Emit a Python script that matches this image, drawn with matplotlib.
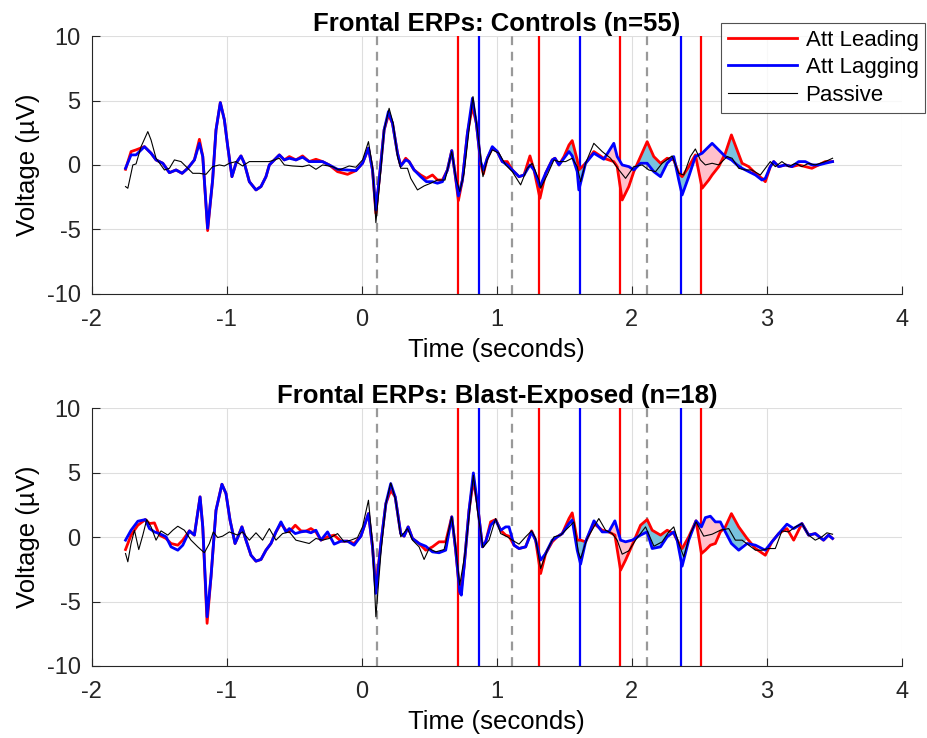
import matplotlib
matplotlib.use('Agg')
import matplotlib.pyplot as plt
import numpy as np

# ---- event markers (seconds) ----
lead_onsets = [0.714, 1.314, 1.914, 2.514]
lag_onsets = [0.864, 1.614, 2.364]
cue_times = [0.114, 1.114, 2.114]
fill_window = (1.45, 2.85)

# ---- Controls (n=55): Att Leading / Att Lagging on a shared time base ----
top_t = [-1.750, -1.709, -1.672, -1.610, -1.561, -1.524, -1.474, -1.425, -1.376, -1.331,
         -1.289, -1.240, -1.203, -1.178, -1.142, -1.105, -1.080, -1.048, -1.018, -0.993,
         -0.962, -0.932, -0.895, -0.870, -0.833, -0.784, -0.747, -0.710, -0.685, -0.648,
         -0.611, -0.574, -0.537, -0.488, -0.439, -0.390, -0.340, -0.291, -0.242, -0.180,
         -0.106, -0.044, 0.005, 0.049, 0.079, 0.104, 0.141, 0.165, 0.197, 0.227,
         0.264, 0.288, 0.325, 0.350, 0.387, 0.436, 0.478, 0.523, 0.560, 0.597,
         0.634, 0.666, 0.690, 0.715, 0.745, 0.782, 0.819, 0.848, 0.880, 0.900,
         0.929, 0.966, 1.003, 1.040, 1.077, 1.114, 1.164, 1.201, 1.245, 1.275,
         1.319, 1.361, 1.410, 1.430, 1.460, 1.497, 1.534, 1.558, 1.595, 1.607,
         1.657, 1.718, 1.792, 1.866, 1.891, 1.928, 1.977, 2.014, 2.064, 2.113,
         2.162, 2.212, 2.261, 2.310, 2.347, 2.372, 2.421, 2.470, 2.520, 2.569,
         2.594, 2.643, 2.692, 2.737, 2.779, 2.816, 2.865, 2.915, 2.963, 2.988,
         3.025, 3.050, 3.087, 3.136, 3.185, 3.235, 3.284, 3.333, 3.383, 3.432,
         3.486]
top_lead = [-0.34, 1.04, 1.17, 1.42, 0.91, 0.39, 0.13, -0.60, -0.39, -0.65,
            -0.26, 0.39, 1.99, 0.65, -5.10, -1.17, 2.72, 4.84, 3.50, 1.42,
            -0.91, 0.13, 0.70, 0.13, -1.30, -1.94, -1.68, -0.91, 0.00, 0.39,
            0.78, 0.39, 0.65, 0.39, 0.70, 0.26, 0.44, 0.26, 0.00, -0.52,
            -0.73, -0.44, 0.13, 1.30, -0.39, -3.76, 0.13, 2.72, 3.89, 3.24,
            0.91, -0.08, 0.52, 0.26, -0.39, -0.78, -1.04, -0.78, -1.17, -1.17,
            -0.39, 1.11, -0.65, -2.77, -1.17, 2.46, 4.53, 3.24, 0.13, -0.70,
            0.52, 1.30, 1.04, 0.26, 0.26, -0.39, -0.91, -0.78, 0.70, -0.39,
            -2.59, -0.65, 0.39, 0.52, 0.00, 0.65, 1.55, 1.89, 0.39, -0.39,
            0.13, 1.04, 0.52, 0.26, -0.13, -2.72, -1.68, -0.52, 0.65, 1.81,
            0.65, 0.13, 0.52, 0.39, -0.65, -0.91, -0.13, 0.78, -1.81, -1.17,
            -0.78, -0.13, 0.91, 2.33, 1.17, 0.13, -0.13, -0.65, -1.04, -1.30,
            -0.13, 0.26, -0.13, 0.00, -0.13, 0.00, -0.13, -0.26, 0.00, 0.26,
            0.26]
top_lag = [-0.26, 0.78, 0.78, 1.42, 0.91, 0.39, 0.13, -0.60, -0.39, -0.65,
           -0.26, 0.39, 1.68, 0.65, -4.92, -1.17, 2.72, 4.84, 3.50, 1.42,
           -0.91, 0.13, 0.70, 0.13, -1.30, -1.94, -1.68, -0.91, 0.00, 0.39,
           0.78, 0.39, 0.52, 0.39, 0.60, 0.26, 0.26, 0.26, 0.00, -0.34,
           -0.39, -0.44, 0.13, 1.30, -0.39, -3.50, 0.13, 2.72, 4.15, 3.24,
           0.91, -0.08, 0.39, 0.26, -0.39, -0.91, -1.30, -1.30, -1.42, -1.30,
           -0.39, 1.11, -0.65, -2.41, -1.17, 2.46, 5.18, 3.24, 0.26, -0.39,
           0.52, 1.42, 1.04, 0.26, 0.00, -0.39, -0.91, -0.78, 0.00, -0.39,
           -1.68, -0.65, 0.39, 0.52, 0.00, 0.52, 1.04, 0.70, -0.52, -1.94,
           0.13, 0.91, 0.44, 1.68, 0.65, 0.00, -0.13, -0.39, 0.13, 0.13,
           -0.52, -0.91, 0.13, 0.65, -1.17, -2.33, -0.91, 0.65, 0.91, 1.42,
           1.68, 1.17, 0.65, 0.39, 0.00, -0.26, -0.52, -0.78, -1.17, -1.04,
           -0.13, 0.26, -0.13, 0.00, -0.13, 0.26, 0.26, 0.00, 0.00, 0.13,
           0.26]

# ---- Controls: Passive ----
top_pass_t = [-1.750, -1.733, -1.709, -1.696, -1.672, -1.635, -1.585, -1.561, -1.524, -1.462,
              -1.425, -1.388, -1.339, -1.289, -1.252, -1.203, -1.154, -1.105, -1.055, -1.018,
              -0.981, -0.932, -0.883, -0.833, -0.759, -0.685, -0.611, -0.574, -0.513, -0.439,
              -0.390, -0.340, -0.291, -0.217, -0.168, -0.094, -0.044, 0.005, 0.049, 0.079,
              0.104, 0.141, 0.165, 0.202, 0.232, 0.264, 0.288, 0.338, 0.362, 0.412,
              0.461, 0.510, 0.560, 0.616, 0.666, 0.695, 0.725, 0.757, 0.794, 0.823,
              0.856, 0.897, 0.929, 0.966, 1.016, 1.065, 1.114, 1.176, 1.225, 1.262,
              1.312, 1.324, 1.373, 1.423, 1.460, 1.509, 1.558, 1.595, 1.620, 1.657,
              1.718, 1.780, 1.842, 1.904, 1.953, 2.014, 2.076, 2.125, 2.175, 2.224,
              2.298, 2.347, 2.384, 2.433, 2.470, 2.507, 2.544, 2.594, 2.643, 2.705,
              2.742, 2.791, 2.840, 2.889, 2.951, 3.025, 3.062, 3.111, 3.160, 3.210,
              3.259, 3.309, 3.358, 3.432, 3.486]
top_pass = [-1.68, -1.81, -0.65, 0.00, 0.08, 1.42, 2.59, 1.94, 0.52, -0.39,
            -0.26, 0.39, 0.26, -0.26, -0.65, -0.65, -0.73, -0.13, 0.00, -0.08,
            0.13, 0.26, -0.08, 0.26, 0.26, 0.26, 0.52, 0.00, -0.08, -0.13,
            0.00, -0.34, 0.00, -0.13, -0.39, -0.08, -0.18, 0.39, 1.81, -0.13,
            -4.48, -0.39, 2.72, 4.40, 3.24, 0.65, -0.26, -0.26, -1.04, -1.94,
            -1.63, -1.42, -1.17, -1.17, 1.04, -0.91, -2.07, -0.65, 2.72, 5.31,
            2.72, -0.91, 0.39, 1.17, 0.91, 0.00, -0.52, -1.55, -0.26, 0.13,
            -1.17, -1.81, -0.78, 0.39, 0.26, 0.26, 0.52, -0.13, -1.30, 0.13,
            1.68, 1.04, 0.52, -0.39, -1.04, -0.13, 0.00, -0.39, -0.52, 0.13,
            0.70, -0.65, -0.78, 0.65, 1.24, 0.39, 0.00, 0.13, 0.00, 0.65,
            0.52, -0.26, -0.39, -0.39, -0.78, 0.26, -0.13, 0.26, -0.13, 0.13,
            -0.13, 0.13, 0.00, 0.26, 0.52]

# ---- Blast-Exposed (n=18): Att Leading / Att Lagging ----
bot_t = [-1.750, -1.709, -1.659, -1.603, -1.573, -1.536, -1.499, -1.450, -1.413, -1.363,
         -1.326, -1.277, -1.240, -1.198, -1.178, -1.146, -1.117, -1.080, -1.036, -1.006,
         -0.976, -0.939, -0.912, -0.888, -0.858, -0.821, -0.784, -0.747, -0.710, -0.673,
         -0.636, -0.599, -0.562, -0.537, -0.493, -0.451, -0.414, -0.377, -0.340, -0.303,
         -0.254, -0.205, -0.155, -0.106, -0.057, -0.007, 0.049, 0.079, 0.104, 0.141,
         0.178, 0.214, 0.247, 0.288, 0.313, 0.343, 0.375, 0.424, 0.473, 0.523,
         0.572, 0.621, 0.666, 0.695, 0.725, 0.737, 0.757, 0.794, 0.826, 0.856,
         0.893, 0.917, 0.954, 0.991, 1.028, 1.065, 1.090, 1.127, 1.164, 1.213,
         1.257, 1.287, 1.324, 1.361, 1.410, 1.447, 1.484, 1.534, 1.558, 1.595,
         1.620, 1.657, 1.719, 1.780, 1.829, 1.874, 1.916, 1.953, 2.002, 2.064,
         2.113, 2.150, 2.212, 2.261, 2.310, 2.335, 2.372, 2.421, 2.475, 2.515,
         2.544, 2.581, 2.618, 2.655, 2.692, 2.737, 2.791, 2.853, 2.915, 2.988,
         3.037, 3.087, 3.148, 3.198, 3.259, 3.309, 3.358, 3.419, 3.456, 3.486]
bot_lead = [-0.96, 0.16, 0.93, 1.37, 1.06, 1.11, 0.16, -0.10, -0.49, -0.62,
            -0.23, 0.49, 0.16, 3.13, 0.80, -6.69, -3.07, 2.09, 4.11, 3.39,
            1.32, -0.49, 0.16, 0.80, -0.23, -1.40, -1.86, -1.73, -1.01, -0.49,
            0.41, 1.06, 0.54, 0.41, 0.93, 0.49, 0.47, 0.67, 0.41, -0.23,
            0.03, 0.16, -0.31, -0.31, -0.49, 0.08, 1.83, -0.75, -4.00, -0.49,
            2.61, 3.64, 3.13, 0.28, 0.08, 0.80, -0.10, -0.49, -1.01, -0.75,
            -0.36, -0.36, 1.58, -1.01, -4.37, -3.98, -2.30, 2.09, 4.42, 2.61,
            -0.75, -0.36, 1.19, 1.37, 0.54, 0.16, 0.08, -0.62, -0.88, -0.75,
            0.49, -0.23, -2.82, -1.27, -0.36, 0.03, 0.28, 1.45, 1.89, -0.23,
            -0.23, -0.36, 1.06, 0.54, 0.41, 0.16, -2.56, -1.78, -0.62, 0.93,
            1.37, 0.54, 0.16, 0.54, 0.28, -0.23, -0.88, 0.03, 1.27, -1.27,
            -1.01, -0.62, -0.49, 0.41, 0.80, 1.83, 0.80, -0.10, -0.88, -1.40,
            -0.36, 0.28, 0.67, -0.23, 1.06, 0.16, 0.28, -0.23, 0.16, -0.10]
bot_lag = [-0.23, 0.54, 1.24, 1.37, 0.67, 0.41, 0.28, 0.03, -0.75, -1.01,
           -0.62, 0.49, 0.16, 3.13, 0.80, -6.18, -3.07, 2.09, 4.11, 3.39,
           1.32, -0.49, 0.16, 0.80, -0.23, -1.40, -1.86, -1.73, -1.01, -0.49,
           0.41, 1.19, 0.41, 0.67, 0.28, 0.41, 0.47, 0.34, 0.54, -0.23,
           0.41, -0.54, -0.31, -0.31, -0.62, 0.08, 1.83, -0.75, -4.37, -0.49,
           2.61, 4.16, 3.13, 0.28, 0.08, 0.80, -0.10, -0.49, -0.70, -1.14,
           -1.21, -1.01, 1.58, -1.01, -4.24, -4.50, -2.30, 2.09, 4.99, 2.61,
           -0.75, -0.36, 0.93, 1.32, 0.54, 0.80, 0.80, -0.62, -0.88, -0.75,
           0.41, -0.23, -1.78, -1.27, -0.23, 0.03, 0.28, 1.06, 1.32, -1.01,
           -2.09, -0.36, 1.27, 0.41, 0.41, 1.27, -0.23, -0.36, -0.23, 0.16,
           0.41, -0.88, -0.75, 0.03, 0.41, -0.23, -2.25, -0.23, 1.27, 0.80,
           1.52, 1.63, 1.19, 1.19, 0.41, -0.49, -1.01, -0.49, -0.62, -1.01,
           -0.36, 0.28, 1.01, 0.67, 1.06, 0.16, 0.28, -0.23, 0.16, -0.10]

# ---- Blast-Exposed: Passive ----
bot_pass_t = [-1.750, -1.733, -1.709, -1.684, -1.652, -1.622, -1.593, -1.561, -1.524, -1.487,
              -1.437, -1.400, -1.363, -1.314, -1.265, -1.215, -1.166, -1.129, -1.100, -1.068,
              -1.031, -0.981, -0.920, -0.883, -0.833, -0.784, -0.735, -0.685, -0.636, -0.587,
              -0.537, -0.488, -0.439, -0.390, -0.340, -0.291, -0.242, -0.180, -0.131, -0.081,
              -0.032, 0.005, 0.049, 0.079, 0.104, 0.141, 0.178, 0.214, 0.251, 0.288,
              0.338, 0.375, 0.424, 0.461, 0.498, 0.547, 0.609, 0.666, 0.695, 0.725,
              0.764, 0.799, 0.826, 0.856, 0.897, 0.942, 0.991, 1.028, 1.077, 1.114,
              1.164, 1.213, 1.257, 1.287, 1.324, 1.373, 1.423, 1.472, 1.534, 1.571,
              1.603, 1.620, 1.669, 1.755, 1.805, 1.854, 1.891, 1.928, 1.977, 2.027,
              2.101, 2.163, 2.224, 2.273, 2.310, 2.347, 2.384, 2.433, 2.475, 2.532,
              2.594, 2.655, 2.717, 2.766, 2.816, 2.865, 2.915, 2.963, 3.012, 3.062,
              3.111, 3.160, 3.210, 3.259, 3.309, 3.358, 3.407, 3.444, 3.486]
bot_pass = [-1.27, -1.91, -0.49, 0.54, -0.96, 0.16, 1.37, 0.80, -0.23, 0.49,
            0.16, 0.54, 0.85, 0.54, -0.23, -0.75, -1.21, -0.49, 0.41, -0.03,
            0.08, 0.41, 0.16, 0.41, -0.23, 0.34, -0.23, 0.67, -0.23, 0.28,
            0.41, -0.23, -0.36, -0.49, -0.10, -0.23, -0.10, 0.28, -0.36, -0.23,
            -0.03, 0.80, 2.87, -0.49, -6.18, -1.27, 2.61, 4.21, 2.87, 0.03,
            0.67, -0.23, -0.75, -1.73, -0.88, -1.14, -0.96, 1.58, -0.75, -3.72,
            -1.27, 2.09, 4.81, 2.09, -0.80, -0.23, 1.45, 0.28, 0.03, -0.23,
            -0.54, 0.03, 0.49, -0.10, -2.43, -1.01, 0.03, 0.16, 0.80, 1.19,
            -1.14, -1.65, -0.10, 1.45, 0.54, 0.28, -0.23, -1.32, -1.06, -0.23,
            0.80, -0.70, -0.36, 0.41, 0.80, -0.49, -1.52, 0.28, 1.19, 0.08,
            0.23, 0.54, 0.67, -0.23, -0.23, -0.62, -1.01, -1.01, -0.88, -0.88,
            0.49, 0.41, 0.80, 1.06, 0.16, -0.23, 0.03, 0.34, 0.23]

plt.rcParams['font.family'] = ['Liberation Sans', 'DejaVu Sans']
plt.rcParams['axes.unicode_minus'] = False

AX_GREY = (0.15, 0.15, 0.15)
PINK = '#FFC0CB'
LIGHTBLUE = '#79C3DE'


def draw_panel(ax, title, t, lead, lag, pt, pv):
    t = np.asarray(t)
    lead = np.asarray(lead)
    lag = np.asarray(lag)

    # shaded difference between conditions within the analysis window
    win = (t >= fill_window[0]) & (t <= fill_window[1])
    ax.fill_between(t, lead, lag, where=win & (lead < lag), interpolate=True,
                    color=PINK, linewidth=0, zorder=2)
    ax.fill_between(t, lead, lag, where=win & (lead >= lag), interpolate=True,
                    color=LIGHTBLUE, linewidth=0, zorder=2)

    for x in cue_times:
        ax.axvline(x, color=(0.6, 0.6, 0.6), linestyle=(0, (4, 3)), linewidth=1.6, zorder=1.5)
    for x in lead_onsets:
        ax.axvline(x, color='#FF0000', linewidth=1.6, zorder=1.5)
    for x in lag_onsets:
        ax.axvline(x, color='#0000FF', linewidth=1.6, zorder=1.5)

    l1, = ax.plot(t, lead, color='#FF0000', linewidth=2.0, label='Att Leading', zorder=3)
    l2, = ax.plot(t, lag, color='#0000FF', linewidth=2.0, label='Att Lagging', zorder=4)
    l3, = ax.plot(pt, pv, color='black', linewidth=0.8, label='Passive', zorder=5)

    ax.set_xlim(-2, 4)
    ax.set_ylim(-10, 10)
    ax.set_xticks(range(-2, 5))
    ax.set_yticks([-10, -5, 0, 5, 10])
    ax.grid(True, color=(0.87, 0.87, 0.87), linewidth=0.8)
    ax.set_axisbelow(True)
    for s in ['top', 'right']:
        ax.spines[s].set_visible(False)
    for s in ['left', 'bottom']:
        ax.spines[s].set_color(AX_GREY)
        ax.spines[s].set_linewidth(0.8)
    ax.tick_params(direction='in', length=6, width=0.8, colors=AX_GREY,
                   labelsize=17, labelcolor=AX_GREY)
    ax.tick_params(axis='x', pad=11)
    ax.tick_params(axis='y', pad=8)
    ax.set_title(title, fontsize=18.5, fontweight='bold', pad=2)
    ax.set_xlabel('Time (seconds)', fontsize=18.5, labelpad=5)
    ax.set_ylabel('Voltage (µV)', fontsize=18.5, labelpad=5)
    return [l1, l2, l3]


fig = plt.figure(figsize=(9.27, 7.38), dpi=100)
ax1 = fig.add_axes([0.099, 0.602, 0.874, 0.349])
ax2 = fig.add_axes([0.099, 0.0976, 0.874, 0.349])

handles = draw_panel(ax1, 'Frontal ERPs: Controls (n=55)', top_t, top_lead, top_lag,
                     top_pass_t, top_pass)
draw_panel(ax2, 'Frontal ERPs: Blast-Exposed (n=18)', bot_t, bot_lead, bot_lag,
           bot_pass_t, bot_pass)

leg = fig.legend(handles=handles, loc='upper right', bbox_to_anchor=(0.998, 0.969),
                 fontsize=16, frameon=True, fancybox=False, handlelength=3.1,
                 labelspacing=0.3, borderpad=0.3, handletextpad=0.4, borderaxespad=0)
leg.get_frame().set_edgecolor(AX_GREY)
leg.get_frame().set_linewidth(0.8)
leg.set_zorder(10)

fig.savefig('out.png', dpi=100)
